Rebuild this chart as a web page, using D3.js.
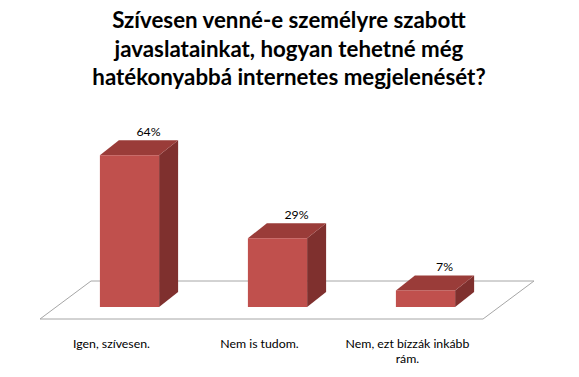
<!DOCTYPE html>
<html>
<head>
<meta charset="utf-8">
<script src="https://cdn.jsdelivr.net/npm/d3@7"></script>
<style>
  html, body { margin: 0; padding: 0; background: #ffffff; }
  svg { display: block; }
</style>
</head>
<body>
<svg id="chart" width="579" height="377"></svg>
<script>
const titleLines = ["Szívesen venné-e személyre szabott", "javaslatainkat, hogyan tehetné még", "hatékonyabbá internetes megjelenését?"];
const categories = ["Igen, szívesen.", "Nem is tudom.", "Nem, ezt bízzák inkább rám."];
const values = [0.64, 0.29, 0.07];
const valueLabels = ["64%", "29%", "7%"];

const svg = d3.select("#chart");
const font = "Lato, 'Open Sans', sans-serif";

// title
const title = svg.append("text")
  .attr("text-anchor", "middle")
  .attr("font-family", font)
  .attr("font-weight", "bold")
  .attr("font-size", 22.3)
  .attr("fill", "#000");
titleLines.forEach((t, i) => {
  title.append("tspan").attr("x", 289).attr("y", 28 + i * 28.5).text(t);
});

const x = d3.scalePoint().domain(categories).range([129.5, 425.5]);
const y = d3.scaleLinear().domain([0, 0.7]).range([307, 141]);
const step = x.step();
const bw = step * 0.4;
const ddx = 19, ddy = -15;       // bar depth
const fdx = 51, fdy = -38;       // floor depth
const floorFrontY = 319;
const floorL = x.range()[0] - 89.5, floorR = x.range()[1] + 57.5;

// floor
svg.append("path")
  .attr("d", `M${floorL},${floorFrontY} L${floorL + fdx},${floorFrontY + fdy} L${floorR + fdx},${floorFrontY + fdy} L${floorR},${floorFrontY} Z`)
  .attr("fill", "none")
  .attr("stroke", "#a6a6a6")
  .attr("stroke-width", 1);

const data = categories.map((c, i) => ({c, v: values[i], lab: valueLabels[i]}));
const g = svg.append("g").selectAll("g").data(data).join("g");

g.each(function(d) {
  const el = d3.select(this);
  const x0 = x(d.c) - bw / 2, x1 = x(d.c) + bw / 2;
  const yt = y(d.v), yb = y(0);
  // side
  el.append("path")
    .attr("d", `M${x1},${yb} L${x1 + ddx},${yb + ddy} L${x1 + ddx},${yt + ddy} L${x1},${yt} Z`)
    .attr("fill", "#7f302e");
  // top
  el.append("path")
    .attr("d", `M${x0},${yt} L${x0 + ddx},${yt + ddy} L${x1 + ddx},${yt + ddy} L${x1},${yt} Z`)
    .attr("fill", "#9a3c39");
  // front
  el.append("rect")
    .attr("x", x0).attr("y", yt).attr("width", bw).attr("height", yb - yt)
    .attr("fill", "#c0504d");
  // value label
  el.append("text")
    .attr("x", x(d.c) + ddx)
    .attr("y", yt + ddy - 4)
    .attr("text-anchor", "middle")
    .attr("font-family", font)
    .attr("font-size", 12.3)
    .attr("fill", "#000")
    .text(d.lab);
});

// category labels with wrapping
categories.forEach(c => {
  const t = svg.append("text")
    .attr("text-anchor", "middle")
    .attr("font-family", font)
    .attr("font-size", 12.3)
    .attr("fill", "#000");
  const cx = x(c) - 18;
  const words = c.split(" ");
  let line = [];
  let lineNo = 0;
  let tspan = t.append("tspan").attr("x", cx).attr("y", 348);
  words.forEach(w => {
    line.push(w);
    tspan.text(line.join(" "));
    if (tspan.node().getComputedTextLength() > 132 && line.length > 1) {
      line.pop();
      tspan.text(line.join(" "));
      line = [w];
      lineNo++;
      tspan = t.append("tspan").attr("x", cx).attr("y", 348 + lineNo * 14.5).text(w);
    }
  });
});
</script>
</body>
</html>
